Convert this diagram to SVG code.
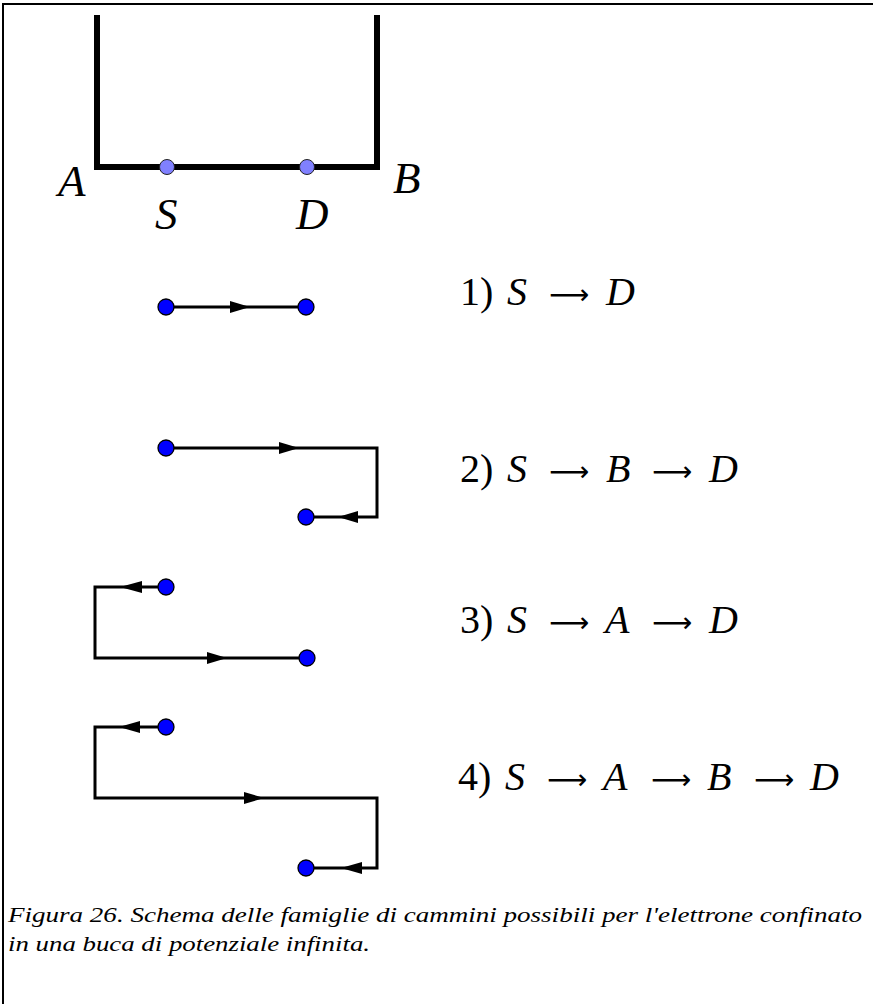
<svg xmlns="http://www.w3.org/2000/svg" width="873" height="1004" viewBox="0 0 873 1004">
<style>
.frame{stroke:#000;stroke-width:2;fill:none}
.well{stroke:#000;stroke-width:6;fill:none;stroke-linejoin:miter;stroke-linecap:butt}
.path{stroke:#000;stroke-width:3;fill:none;stroke-linejoin:miter}
.pt{fill:#8080ff;stroke:#222;stroke-width:1}
.dot{fill:#0000ff;stroke:#000;stroke-width:1.3}
.head{fill:#000}
.m{font-family:'Liberation Serif','Times New Roman',serif;font-size:40px;fill:#000}
.mi{font-style:italic}
.ar{font-family:'DejaVu Sans',sans-serif;font-size:28px;fill:#000}
.wl{font-family:'Liberation Serif','Times New Roman',serif;font-size:45px;font-style:italic;fill:#000}
.cap{font-family:'Liberation Serif','Times New Roman',serif;font-size:21px;font-style:italic;fill:#000}
</style>
<rect width="873" height="1004" fill="#fff"/>
<path class="frame" d="M3,1004 V4 H873"/>
<g id="well">
<path class="well" d="M97,15 V167 H377 V15"/>
<circle class="pt" cx="167" cy="167" r="7.5"/>
<circle class="pt" cx="307" cy="167" r="7.5"/>
<text class="wl" x="58" y="196">A</text>
<text class="wl" x="393" y="193">B</text>
<text class="wl" x="155" y="229">S</text>
<text class="wl" x="296" y="229">D</text>
</g>
<g id="connectors">
<path class="path" d="M166,307 H306"/>
<polygon class="head" points="250,307 230,301 230,313"/>
<path class="path" d="M166,448 H377 V517 H306"/>
<polygon class="head" points="299,448 279,442 279,454"/>
<polygon class="head" points="338,517 358,511 358,523"/>
<path class="path" d="M166,587 H95 V658 H307"/>
<polygon class="head" points="120,587 142,581 142,593"/>
<polygon class="head" points="227,658 207,652 207,664"/>
<path class="path" d="M166,727 H95 V798 H377 V868 H306"/>
<polygon class="head" points="119,727 140,721 140,733"/>
<polygon class="head" points="264,798 244,792 244,804"/>
<polygon class="head" points="341,868 362,862 362,874"/>
</g>
<g id="dots">
<circle class="dot" cx="166" cy="307" r="8"/>
<circle class="dot" cx="306" cy="307" r="8"/>
<circle class="dot" cx="166" cy="448" r="8"/>
<circle class="dot" cx="306" cy="517" r="8"/>
<circle class="dot" cx="166" cy="587" r="8"/>
<circle class="dot" cx="307" cy="658" r="8"/>
<circle class="dot" cx="166" cy="727" r="8"/>
<circle class="dot" cx="306" cy="868" r="8"/>
</g>
<g id="label1">
<text class="m" x="460" y="305">1)</text>
<text class="m mi" x="507" y="305">S</text>
<text class="ar" x="549" y="304">⟶</text>
<text class="m mi" x="606" y="305">D</text>
</g>
<g id="label2">
<text class="m" x="460" y="482">2)</text>
<text class="m mi" x="507" y="482">S</text>
<text class="ar" x="549" y="481">⟶</text>
<text class="m mi" x="606" y="482">B</text>
<text class="ar" x="652" y="481">⟶</text>
<text class="m mi" x="709" y="482">D</text>
</g>
<g id="label3">
<text class="m" x="460" y="633">3)</text>
<text class="m mi" x="507" y="633">S</text>
<text class="ar" x="549" y="632">⟶</text>
<text class="m mi" x="605" y="633">A</text>
<text class="ar" x="652" y="632">⟶</text>
<text class="m mi" x="709" y="633">D</text>
</g>
<g id="label4">
<text class="m" x="458" y="790">4)</text>
<text class="m mi" x="505" y="790">S</text>
<text class="ar" x="547" y="789">⟶</text>
<text class="m mi" x="603" y="790">A</text>
<text class="ar" x="651" y="789">⟶</text>
<text class="m mi" x="707" y="790">B</text>
<text class="ar" x="754" y="789">⟶</text>
<text class="m mi" x="810" y="790">D</text>
</g>
<g id="caption">
<text class="cap" x="8" y="922" textLength="854" lengthAdjust="spacingAndGlyphs">Figura 26. Schema delle famiglie di cammini possibili per l'elettrone confinato</text>
<text class="cap" x="8" y="951" textLength="362" lengthAdjust="spacingAndGlyphs">in una buca di potenziale infinita.</text>
</g>
</svg>
